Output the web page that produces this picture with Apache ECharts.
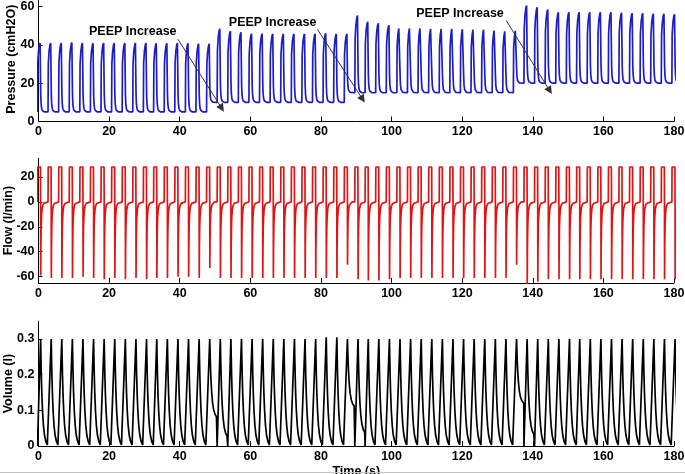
<!DOCTYPE html>
<html><head><meta charset="utf-8">
<script src="https://cdn.jsdelivr.net/npm/echarts@6/dist/echarts.min.js"></script>
<style>html,body{margin:0;padding:0;background:#fff}#c{width:685px;height:474px}</style>
</head><body><div id="c"></div><script>
// ---- breath-level readings (time in s) ----
const breathStart = [-0.3, 2.7, 5.7, 8.7, 11.7, 14.7, 17.7, 20.7, 23.7, 26.7, 29.7, 32.6, 35.6, 38.6, 41.6, 44.6, 47.6, 50.6, 53.6, 56.6,
  59.6, 62.6, 65.6, 68.6, 71.6, 74.6, 77.6, 80.6, 83.6, 86.6, 89.6, 92.5, 95.5, 98.5, 101.5, 104.5, 107.5, 110.5, 113.5, 116.5,
  119.5, 122.5, 125.5, 128.5, 131.5, 134.5, 137.5, 140.5, 143.5, 146.5, 149.5, 152.4, 155.4, 158.4, 161.4, 164.4, 167.4, 170.4, 173.4, 176.4, 179.4];
const pressurePeak = [41, 41, 41, 41.2, 41, 40.8, 41, 41, 41, 41, 41, 40.8, 40.8, 41, 40.8, 40.6, 40.5, 48.4, 47.2, 46.6,
  45.8, 45.8, 45.7, 45.7, 45.7, 45.7, 45.8, 46, 45.7, 45.7, 55.3, 52, 51.3, 50.2, 49.6, 49.6, 49.6, 49.3, 49.3, 49.3,
  49.2, 48.9, 48.9, 48.4, 48, 48.3, 60.5, 59.6, 58.4, 57, 57, 57, 57, 57, 57, 56.7, 56.5, 56.5, 56.2, 56.2, 56];
const initialPeep = 5;
const peepLevel = [5, 5, 5, 5, 5, 5, 5, 5, 5, 5, 5, 5, 5, 5, 5, 5, 10, 10, 10, 10,
  10, 10, 10, 10, 10, 10, 10, 10, 10, 15, 15, 15, 15, 15, 15, 15, 15, 15, 15, 15,
  15, 15, 15, 15, 15, 20, 20, 20, 20, 20, 20, 20, 20, 20, 20, 20, 20, 20, 20, 20, 20];
const flowPeak = [28, 28, 28, 28, 28, 28, 28, 28, 28, 28, 28, 28, 28, 28, 28, 28, 28, 28, 28, 28,
  28, 28, 28, 28, 28, 28, 28, 28, 28, 28, 28, 28, 28, 28, 28, 28, 28, 28, 28, 28,
  28, 28, 28, 28, 28, 28, 28, 28, 28, 28, 28, 28, 28, 28, 28, 28, 28, 28, 28, 28, 28];
const flowMin = [-59, -61, -61, -61, -60, -61, -62, -61, -62, -61, -62, -61, -61, -60, -60, -61, -53, -61, -61, -61,
  -61, -61, -61, -61, -61, -61, -61, -61, -61, -50.5, -62, -63, -63, -62, -61, -61, -61, -61, -61, -61,
  -61, -61, -61, -61, -61, -50.5, -67, -64, -62, -62, -62, -62, -62, -62, -62, -62, -62, -62, -62, -62, -62];
const volumePeak = [0.3, 0.3, 0.3, 0.3, 0.3, 0.3, 0.3, 0.3, 0.3, 0.3, 0.3, 0.3, 0.3, 0.3, 0.3, 0.3, 0.3, 0.3, 0.3, 0.3,
  0.3, 0.3, 0.3, 0.3, 0.3, 0.3, 0.3, 0.305, 0.305, 0.3, 0.3, 0.3, 0.3, 0.3, 0.3, 0.3, 0.3, 0.3, 0.3, 0.3,
  0.3, 0.3, 0.3, 0.3, 0.3, 0.3, 0.3, 0.3, 0.3, 0.3, 0.3, 0.3, 0.3, 0.3, 0.3, 0.3, 0.3, 0.3, 0.3, 0.3, 0.3];
const volumeEnd = [0, 0, 0, 0, 0, 0, 0, 0, 0, 0, 0, 0, 0, 0, 0, 0, 0.08, 0.025, 0, 0,
  0, 0, 0, 0, 0, 0, 0, 0, 0, 0.11, 0.035, 0, 0, 0, 0, 0, 0, 0, 0, 0,
  0, 0, 0, 0, 0, 0.12, 0.03, 0, 0, 0, 0, 0, 0, 0, 0, 0, 0, 0, 0, 0, 0];

// ---- single-breath shape: [seconds after breath start, fraction] ----
const pressureRise = [[0, 0], [0.08, 0.7], [0.3, 0.88], [0.55, 0.97], [0.75, 1], [0.86, 0.98]];
const pressureFall = [[0.93, 0.25], [1.03, 0.12], [1.18, 0.05], [1.4, 0.02], [1.7, 0.005], [2.0, 0]];
const flowInsp = [[0, 0], [0.05, 1], [0.86, 1], [0.9, 0]];
const flowExp = [[0.93, 1], [0.98, 0.6], [1.05, 0.35], [1.15, 0.2], [1.3, 0.1], [1.5, 0.05], [1.8, 0.02], [2.2, 0]];
const volumeRise = [[0, 0], [0.9, 1]];
const volumeFall = [[0.9, 1], [1.0, 0.82], [1.1, 0.66], [1.25, 0.48], [1.45, 0.32], [1.7, 0.19], [2.0, 0.1], [2.4, 0.04], [2.8, 0.01], [2.95, 0]];

// annotation: label position and arrow (start -> end) in data units of the pressure plot
const annotTextT = [26.7, 66.3, 119.4];
const annotTextP = [47.1, 51.6, 56.1];
const arrowFrom = [[39.5, 42.9], [79.0, 48.1], [132.5, 52.6]];
const arrowTo = [[51.9, 6.9], [91.8, 11.6], [144.8, 16.1]];

const xTicks = [0, 20, 40, 60, 80, 100, 120, 140, 160, 180];
const pTicks = [0, 20, 40, 60];
const fTicks = [-60, -40, -20, 0, 20];
const vTicks = [0, 0.1, 0.2, 0.3];

function buildPressure() {
  const pts = []; let base = initialPeep;
  for (let k = 0; k < breathStart.length; k++) {
    const s = breathStart[k], pk = pressurePeak[k], pe = peepLevel[k];
    pressureRise.forEach(([dt, f]) => pts.push([s + dt, base + f * (pk - base)]));
    pressureFall.forEach(([dt, g]) => pts.push([s + dt, pe + g * (pk - pe)]));
    base = pe;
  }
  return pts;
}
function buildFlow() {
  const pts = [];
  for (let k = 0; k < breathStart.length; k++) {
    const s = breathStart[k];
    flowInsp.forEach(([dt, f]) => pts.push([s + dt, f * flowPeak[k]]));
    flowExp.forEach(([dt, q]) => pts.push([s + dt, q * flowMin[k]]));
  }
  return pts;
}
function buildVolume() {
  const pts = []; let prevEnd = 0;
  for (let k = 0; k < breathStart.length; k++) {
    const s = breathStart[k], vp = volumePeak[k], ve = volumeEnd[k];
    if (prevEnd > 0) pts.push([s, prevEnd]);
    volumeRise.forEach(([dt, f]) => pts.push([s + dt, f * vp]));
    volumeFall.forEach(([dt, h]) => pts.push([s + dt, ve + h * (vp - ve)]));
    prevEnd = ve;
  }
  return pts;
}

const FONT = 'Liberation Sans, Arial, sans-serif';
const lab = { color: '#000', fontFamily: FONT, fontWeight: 'bold', fontSize: 12.5 };
const L = 38.5, R = 11;
const grids = [
  { left: L, right: R, top: -3.1, height: 124.6, outerBoundsMode: 'none', containLabel: false },
  { left: L, right: R, top: 158.3, height: 124.6, outerBoundsMode: 'none', containLabel: false },
  { left: L, right: R, top: 321.2, height: 124.8, outerBoundsMode: 'none', containLabel: false }
];
function xAxis(i, withName) {
  return {
    type: 'value', gridIndex: i, min: 0, max: 180, interval: 20,
    axisLine: { onZero: false, lineStyle: { color: '#000', width: 1 } },
    axisTick: { inside: true, length: 5, lineStyle: { color: '#000' }, customValues: xTicks },
    axisLabel: Object.assign({ margin: 4, customValues: xTicks }, lab),
    splitLine: { show: false },
    name: withName ? 'Time (s)' : '', nameLocation: 'middle', nameGap: 19, nameMoveOverlap: false,
    nameTextStyle: lab
  };
}
function yAxis(i, min, max, ticks, name, gap) {
  return {
    type: 'value', gridIndex: i, min: min, max: max,
    axisLine: { show: true, onZero: false, lineStyle: { color: '#000', width: 1 } },
    axisTick: { show: true, inside: true, length: 4, lineStyle: { color: '#000' }, customValues: ticks },
    axisLabel: Object.assign({ margin: 4, customValues: ticks }, lab),
    splitLine: { show: false },
    name: name, nameLocation: 'middle', nameGap: gap, nameRotate: 90, nameMoveOverlap: false,
    nameTextStyle: lab
  };
}

const chart = echarts.init(document.getElementById('c'), null, { renderer: 'canvas' });
const markLineData = arrowFrom.map((a, i) => [{ coord: a }, { coord: arrowTo[i] }]);
const markPointData = annotTextT.map((t, i) => ({ coord: [t, annotTextP[i]], value: 'PEEP Increase' }));
chart.setOption({
  animation: false,
  backgroundColor: '#fff',
  grid: grids,
  xAxis: [xAxis(0, false), xAxis(1, false), xAxis(2, true)],
  yAxis: [
    yAxis(0, 0, 65, pTicks, 'Pressure (cmH2O)', 20),
    yAxis(1, -65, 35, fTicks, 'Flow (l/min)', 23),
    yAxis(2, 0, 0.35, vTicks, 'Volume (l)', 23)
  ],
  graphic: [{
    type: 'line', silent: true, shape: { x1: 0, y1: 472.5, x2: 685, y2: 472.5 },
    style: { stroke: '#c4c4c4', lineWidth: 1 }, z: 100
  }],
  series: [
    {
      type: 'line', xAxisIndex: 0, yAxisIndex: 0, data: buildPressure(), showSymbol: false, symbol: 'none',
      lineStyle: { color: '#1d1dc6', width: 1.7 }, clip: true,
      markLine: {
        silent: true, symbol: ['none', 'triangle'], symbolSize: 8,
        lineStyle: { color: '#333', width: 1, type: 'solid' }, itemStyle: { color: '#111' },
        label: { show: false }, data: markLineData
      },
      markPoint: {
        silent: true, symbol: 'circle', symbolSize: 1, itemStyle: { color: 'rgba(0,0,0,0)' },
        label: Object.assign({ show: true, position: 'inside', formatter: 'PEEP Increase' }, lab),
        data: markPointData
      }
    },
    {
      type: 'line', xAxisIndex: 1, yAxisIndex: 1, data: buildFlow(), showSymbol: false, symbol: 'none',
      lineStyle: { color: '#e01414', width: 1.7 }, clip: true
    },
    {
      type: 'line', xAxisIndex: 2, yAxisIndex: 2, data: buildVolume(), showSymbol: false, symbol: 'none',
      lineStyle: { color: '#000', width: 1.7 }, clip: true
    }
  ]
});
</script></body></html>
